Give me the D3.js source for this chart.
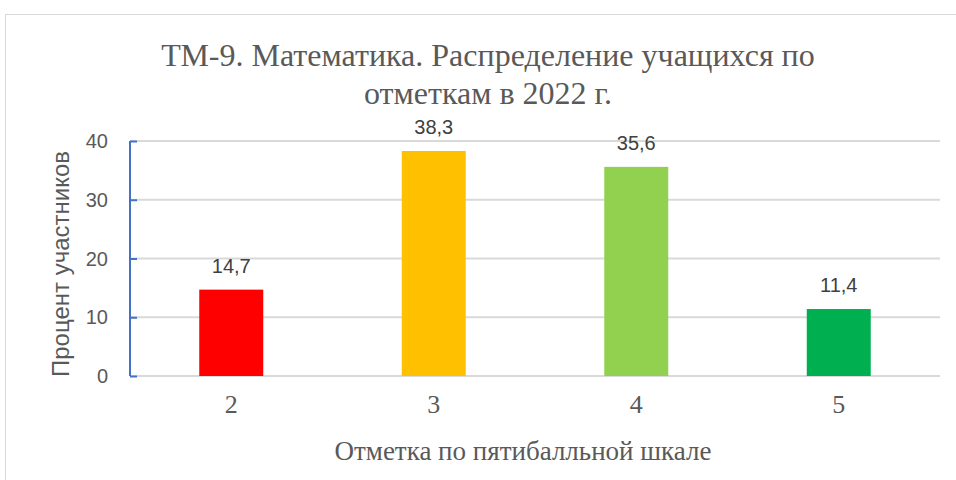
<!DOCTYPE html>
<html>
<head>
<meta charset="utf-8">
<script src="https://cdn.jsdelivr.net/npm/d3@7"></script>
<style>
  body { margin: 0; background: #fff; }
</style>
</head>
<body>
<div id="chart"></div>
<script>
// data
const grades = ["2", "3", "4", "5"]
const percents = [14.7, 38.3, 35.6, 11.4]
const barColors = ["#FF0000", "#FFC000", "#92D050", "#00B050"]
const yTicks = [0, 10, 20, 30, 40]
const titleLines = ["ТМ-9. Математика. Распределение учащихся по", "отметкам в 2022 г."]
const xTitle = "Отметка по пятибалльной шкале"
const yTitle = "Процент участников"

const width = 956, height = 480
const margin = ({ top: 141, right: 16, bottom: 104, left: 130 })
const serif = "'Times New Roman', 'Liberation Serif', 'DejaVu Serif', serif"
const sans = "'Liberation Sans', Arial, sans-serif"

const svg = d3.select("#chart").append("svg")
   .attr("width", width)
   .attr("height", height)

// chart frame (cropped at right and bottom)
svg.append("rect")
   .attr("x", 5.5).attr("y", 14.5)
   .attr("width", 970).attr("height", 500)
   .attr("fill", "none")
   .attr("stroke", "#d9d9d9")

const x = d3.scaleBand()
   .domain(grades)
   .range([margin.left, width - margin.right])
   .paddingInner(0.684)
   .paddingOuter(0.342)

const y = d3.scaleLinear()
   .domain([0, 40])
   .range([height - margin.bottom, margin.top])

// gridlines
svg.append("g")
   .attr("stroke", "#d9d9d9")
   .attr("stroke-width", 2)
   .selectAll("line")
   .data(yTicks)
   .join("line")
   .attr("x1", margin.left)
   .attr("x2", width - margin.right)
   .attr("y1", d => y(d))
   .attr("y2", d => y(d))

// y axis (blue line, inside ticks)
const yAxis = svg.append("g")
   .attr("transform", `translate(${margin.left},0)`)
   .call(d3.axisRight(y).tickValues(yTicks).tickSize(7).tickFormat(""))
yAxis.selectAll("path, line").attr("stroke", "#4472C4").attr("stroke-width", 2)
yAxis.select(".domain").attr("d", `M0,${y(0)}V${y(40)}`)

svg.append("g")
   .style("font-family", sans)
   .style("font-size", "20px")
   .attr("fill", "#595959")
   .attr("text-anchor", "end")
   .selectAll("text")
   .data(yTicks)
   .join("text")
   .attr("x", 108)
   .attr("y", d => y(d))
   .attr("dy", "0.35em")
   .text(d => d)

// bars
svg.append("g")
   .selectAll("rect")
   .data(percents)
   .join("rect")
   .attr("x", (d, i) => x(grades[i]))
   .attr("y", d => y(d))
   .attr("width", x.bandwidth())
   .attr("height", d => y(0) - y(d))
   .attr("fill", (d, i) => barColors[i])

// value labels
svg.append("g")
   .style("font-family", sans)
   .style("font-size", "20px")
   .attr("fill", "#404040")
   .attr("text-anchor", "middle")
   .selectAll("text")
   .data(percents)
   .join("text")
   .attr("x", (d, i) => x(grades[i]) + x.bandwidth() / 2)
   .attr("y", d => y(d) - 24)
   .attr("dy", "0.35em")
   .text(d => d3.format(".1f")(d).replace(".", ","))

// x tick labels
svg.append("g")
   .style("font-family", serif)
   .style("font-size", "26px")
   .attr("fill", "#595959")
   .attr("text-anchor", "middle")
   .selectAll("text")
   .data(grades)
   .join("text")
   .attr("x", d => x(d) + x.bandwidth() / 2)
   .attr("y", 404)
   .attr("dy", "0.35em")
   .text(d => d)

// title
svg.append("g")
   .style("font-family", serif)
   .style("font-size", "32px")
   .attr("fill", "#595959")
   .attr("text-anchor", "middle")
   .selectAll("text")
   .data(titleLines)
   .join("text")
   .attr("x", 488)
   .attr("y", (d, i) => 55 + i * 38)
   .attr("dy", "0.35em")
   .text(d => d)

// axis titles
svg.append("text")
   .style("font-family", serif)
   .style("font-size", "27px")
   .attr("fill", "#595959")
   .attr("text-anchor", "middle")
   .attr("x", 523)
   .attr("y", 451)
   .attr("dy", "0.35em")
   .text(xTitle)

svg.append("text")
   .style("font-family", sans)
   .style("font-size", "24px")
   .attr("fill", "#595959")
   .attr("text-anchor", "middle")
   .attr("transform", "translate(61,264) rotate(-90)")
   .attr("dy", "0.35em")
   .text(yTitle)
</script>
</body>
</html>
